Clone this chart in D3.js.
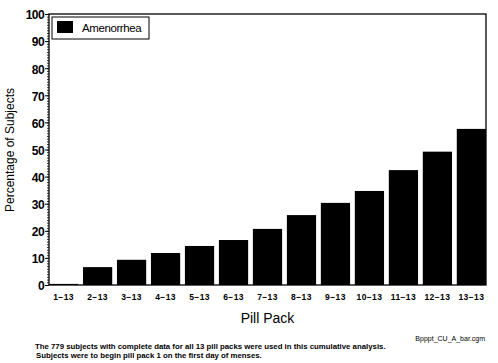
<!DOCTYPE html>
<html>
<head>
<meta charset="utf-8">
<script src="https://cdn.jsdelivr.net/npm/d3@7"></script>
<style>
  body { margin: 0; background: #fff; }
  text { font-family: "Liberation Sans", Arial, sans-serif; fill: #000; }
</style>
</head>
<body>
<script>
// Data
var packs = ['1\u221213', '2\u221213', '3\u221213', '4\u221213', '5\u221213', '6\u221213', '7\u221213',
             '8\u221213', '9\u221213', '10\u221213', '11\u221213', '12\u221213', '13\u221213'];
var amenorrhea = [0.4, 6.6, 9.3, 11.8, 14.4, 16.6, 20.7, 25.8, 30.3, 34.7, 42.4, 49.2, 57.6];
var yTicks = [0, 10, 20, 30, 40, 50, 60, 70, 80, 90, 100];
var footnotes = ['The 779 subjects with complete data for all 13 pill packs were used in this cumulative analysis.',
                 'Subjects were to begin pill pack 1 on the first day of menses.'];

var margin = {top: 14, right: 12, bottom: 78, left: 49},
    width = 498 - margin.left - margin.right,
    height = 363 - margin.top - margin.bottom;

var svg = d3.select('body').append('svg')
    .attr('width', 498)
    .attr('height', 363);

var wrap = svg.append('g')
    .attr('transform', 'translate(' + margin.left + ',' + margin.top + ')');

var x = d3.scaleBand().domain(packs).range([0, width]).paddingInner(0.14).paddingOuter(0);
var y = d3.scaleLinear().domain([0, 100]).range([height, 0]);

// Bars
wrap.selectAll('.bar')
    .data(amenorrhea)
    .enter()
    .append('rect')
    .attr('x', function(d, i) { return x(packs[i]); })
    .attr('y', function(d) { return y(d); })
    .attr('width', x.bandwidth())
    .attr('height', function(d) { return height - y(d); })
    .attr('fill', '#000');

// Minor ticks every 1%
var minor = d3.axisLeft(y).ticks(100).tickSize(2).tickFormat('');
wrap.append('g').call(minor)
    .call(function(g) { g.select('.domain').remove(); })
    .selectAll('line').attr('stroke-width', 0.8);

// Y axis
var yAxis = d3.axisLeft(y).tickValues(yTicks).tickSize(4).tickPadding(1);
wrap.append('g').call(yAxis)
    .call(function(g) {
        g.select('.domain').remove();
        g.selectAll('text')
            .style('font-size', '12px')
            .style('font-weight', 'bold')
            .style('letter-spacing', '-0.6px')
            .attr('dy', '0.4em');
    });

// X labels
var xAxis = d3.axisBottom(x).tickSize(0).tickPadding(9);
wrap.append('g')
    .attr('transform', 'translate(0,' + height + ')')
    .call(xAxis)
    .call(function(g) {
        g.select('.domain').remove();
        g.selectAll('text')
            .style('font-size', '8.5px')
            .style('font-weight', 'bold')
            .style('letter-spacing', '0.4px');
    });

// Frame
wrap.append('rect')
    .attr('width', width)
    .attr('height', height)
    .attr('fill', 'none')
    .attr('stroke', '#000')
    .attr('stroke-width', 1.3);

// Legend
var legend = wrap.append('g').attr('transform', 'translate(3,3)');
legend.append('rect')
    .attr('width', 97).attr('height', 22)
    .attr('fill', '#fff').attr('stroke', '#000').attr('stroke-width', 1);
legend.append('rect')
    .attr('x', 5).attr('y', 4).attr('width', 16).attr('height', 12)
    .attr('fill', '#000');
legend.append('text')
    .attr('x', 30).attr('y', 15)
    .style('font-size', '11.5px')
    .style('letter-spacing', '-0.4px')
    .text('Amenorrhea');

// Axis titles
svg.append('text')
    .attr('transform', 'translate(14,' + (margin.top + 136) + ') rotate(-90)')
    .attr('text-anchor', 'middle')
    .style('font-size', '12px')
    .text('Percentage of Subjects');

svg.append('text')
    .attr('x', margin.left + width / 2)
    .attr('y', 323)
    .attr('text-anchor', 'middle')
    .style('font-size', '14px')
    .text('Pill Pack');

// File name and footnotes
svg.append('text')
    .attr('x', 485).attr('y', 341)
    .attr('text-anchor', 'end')
    .style('font-size', '7px')
    .text('Bpppt_CU_A_bar.cgm');

svg.selectAll('.foot')
    .data(footnotes)
    .enter()
    .append('text')
    .attr('x', function(d, i) { return 35 + i; })
    .attr('y', function(d, i) { return 349 + i * 9; })
    .style('font-size', '7.8px')
    .style('font-weight', 'bold')
    .text(function(d) { return d; });
</script>
</body>
</html>
